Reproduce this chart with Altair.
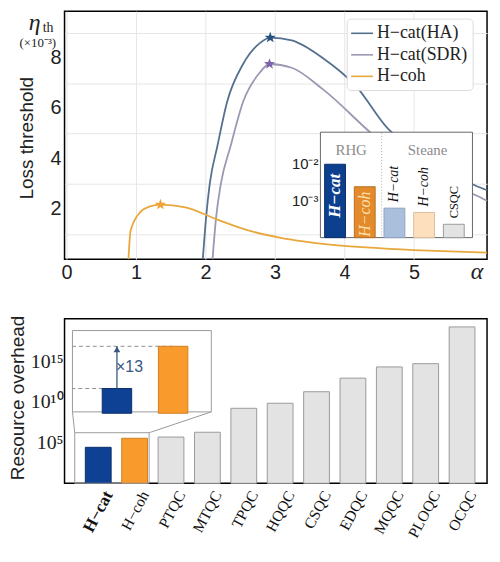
import altair as alt
import pandas as pd

# ---------------- Top panel: loss threshold (x1e-3) vs alpha ----------------
series_names = ["H−cat(HA)", "H−cat(SDR)", "H−coh"]
line_colors = ["#55708f", "#9a98b3", "#e8a83c"]

ha_alpha = [1.96, 2.01, 2.06, 2.17, 2.31, 2.54, 2.78, 2.93, 3.24, 3.69, 4.17, 4.63, 5.0, 5.5, 5.88, 6.05]
ha_eta = [0.0, 1.75, 3.0, 4.5, 6.26, 7.76, 8.59, 8.81, 8.7, 7.99, 6.86, 5.17, 4.4, 3.5, 2.93, 2.74]

sdr_alpha = [2.10, 2.15, 2.22, 2.36, 2.54, 2.78, 2.92, 3.24, 3.69, 4.39, 4.8, 5.3, 5.88, 6.05]
sdr_eta = [0.0, 1.63, 3.0, 4.5, 6.26, 7.42, 7.76, 7.61, 6.75, 4.99, 4.05, 3.2, 2.55, 2.32]

coh_alpha = [0.89, 0.92, 1.06, 1.2, 1.35, 1.71, 2.17, 2.64, 3.1, 3.38, 3.79, 4.49, 5.2, 6.05]
coh_eta = [0.0, 1.12, 1.87, 2.1, 2.17, 2.06, 1.57, 1.12, 0.84, 0.72, 0.58, 0.44, 0.34, 0.26]

peak_alpha = [2.93, 2.92, 1.35]
peak_eta = [8.81, 7.76, 2.17]
star_colors = ["#27507f", "#7a63a9", "#f2a235"]
STAR = ("M0,-1L0.235,-0.324L0.951,-0.309L0.38,0.124L0.588,0.809L0,0.4L-0.588,0.809"
        "L-0.38,0.124L-0.951,-0.309L-0.235,-0.324Z")

x_ticks = [0, 1, 2, 3, 4, 5]
y_grid = [1, 2, 3, 4, 5, 6, 7, 8, 9]
y_label_vals = [2, 4, 6, 8]
y_label_txt = ["2", "4", "6", "8"]

# inset of top panel
inset_groups = ["RHG", "Steane"]
inset_names = ["H−cat", "H−coh", "H−cat", "H−coh", "CSQC"]
inset_values = [9.8e-3, 2.4e-3, 6.3e-4, 4.8e-4, 2.3e-4]
inset_fill = ["#0d3f8f", "#e38a2b", "#aabfdc", "#fddfbe", "#e3e3e3"]
inset_stroke = ["#0a2f6b", "#b86e22", "#8fa3c0", "#d9bf9f", "#9a9a9a"]
inset_floor = 1e-4
inset_ticks = [1e-2, 1e-3]
inset_tick_labels = ["10⁻²", "10⁻³"]

# ---------------- Bottom panel: resource overhead ----------------
methods = ["H−cat", "H−coh", "PTQC", "MTQC", "TPQC", "HQQC", "CSQC", "EDQC", "MQQC", "PLOQC", "OCQC"]
overhead = [2.75e4, 3.6e5, 5.1e5, 2.0e6, 1.8e9, 7.6e9, 2.0e11, 9.5e12, 2.3e14, 5.8e14, 2.0e19]
method_fill = ["#0e4194", "#f89b2c", "#e3e3e3", "#e3e3e3", "#e3e3e3", "#e3e3e3",
               "#e3e3e3", "#e3e3e3", "#e3e3e3", "#e3e3e3", "#e3e3e3"]
method_stroke = ["#0a2f6b", "#d07f20", "#9a9a9a", "#9a9a9a", "#9a9a9a", "#9a9a9a",
                 "#9a9a9a", "#9a9a9a", "#9a9a9a", "#9a9a9a", "#9a9a9a"]
bottom_floor = 1
zoom_floor = 6.1e3
y_ticks_bottom = [1e5, 1e10, 1e15]
y_ticks_bottom_txt = ["10⁵", "10¹⁰", "10¹⁵"]
ratio_label = "×13"

SERIF = "Liberation Serif"
SANS = "Liberation Sans"

# ---------------- data frames ----------------
rows = []
for name, xa, ya in zip(series_names, [ha_alpha, sdr_alpha, coh_alpha], [ha_eta, sdr_eta, coh_eta]):
    for a, e in zip(xa, ya):
        rows.append({"series": name, "alpha": a, "eta": e})
df_lines = pd.DataFrame(rows)
df_stars = pd.DataFrame({"series": series_names, "alpha": peak_alpha, "eta": peak_eta, "fill": star_colors})
df_ylab = pd.DataFrame({"eta": y_label_vals, "t": y_label_txt})
df_inset = pd.DataFrame({"i": list(range(len(inset_names))), "name": inset_names, "v": inset_values,
                         "base": [inset_floor] * len(inset_names),
                         "fill": inset_fill, "stroke": inset_stroke})
df_itick = pd.DataFrame({"v": inset_ticks, "t": inset_tick_labels})
df_b = pd.DataFrame({"i": list(range(len(methods))), "name": methods, "v": overhead,
                     "base": [bottom_floor] * len(methods),
                     "fill": method_fill, "stroke": method_stroke})
df_bylab = pd.DataFrame({"v": y_ticks_bottom, "t": y_ticks_bottom_txt})
df_bi = pd.DataFrame({"i": [0, 1], "v": overhead[:2], "base": [zoom_floor, zoom_floor],
                      "fill": method_fill[:2], "stroke": method_stroke[:2]})
df_arrow = pd.DataFrame({"i": [0], "v0": [overhead[0]], "v1": [overhead[1]]})
one = pd.DataFrame({"a": [0]})


def txt(text, x, y, **kw):
    return alt.Chart(one).mark_text(text=text, **kw).encode(x=alt.value(x), y=alt.value(y))


# ---------------- top panel ----------------
W1, H1 = 426, 250
xs = alt.Scale(domain=[-0.03, 6.05], nice=False, zero=False)
ys = alt.Scale(domain=[0, 9.86], nice=False, zero=False)

x_enc = alt.X("alpha:Q", scale=xs, axis=alt.Axis(
    values=x_ticks, grid=True, gridColor="#e6e6e6", domain=False, ticks=False,
    labelFont=SANS, labelFontSize=20, labelColor="#222", labelPadding=4, title=None))
y_enc = alt.Y("eta:Q", scale=ys, axis=alt.Axis(
    values=y_grid, grid=True, gridColor="#e6e6e6", domain=False, ticks=False, labels=False,
    title=None))

lines = alt.Chart(df_lines).mark_line(strokeWidth=1.8, interpolate="monotone").encode(
    x=x_enc, y=y_enc,
    color=alt.Color("series:N", scale=alt.Scale(domain=series_names, range=line_colors), legend=None))

stars = alt.Chart(df_stars).mark_point(shape=STAR, filled=True, size=140, opacity=1).encode(
    x=x_enc, y=y_enc, fill=alt.Fill("fill:N", scale=None))

ylab = alt.Chart(df_ylab).mark_text(font=SANS, fontSize=20, color="#222", align="right",
                                    baseline="middle").encode(
    x=alt.value(-3), y=alt.Y("eta:Q", scale=ys), text="t:N")

# legend box drawn by hand
leg_box = alt.Chart(one).mark_rect(fill="white", stroke="#dcdcdc", strokeWidth=1, cornerRadius=4).encode(
    x=alt.value(285), x2=alt.value(412), y=alt.value(8), y2=alt.value(80))
leg_items = []
for k, (nm, colr) in enumerate(zip(series_names, line_colors)):
    yy = 22.3 + 21.7 * k
    leg_items.append(alt.Chart(one).mark_rule(color=colr, strokeWidth=1.6).encode(
        x=alt.value(289), x2=alt.value(311), y=alt.value(yy)))
    leg_items.append(txt(nm, 315, yy, font=SERIF, fontSize=18, color="#222", align="left",
                         baseline="middle"))

ytitle = txt("Loss threshold", -38, 128, font=SANS, fontSize=19, color="#222", angle=270,
             align="center", baseline="middle")
eta_sym = txt("η", -30, 19, font=SERIF, fontStyle="italic", fontSize=24, align="center",
              baseline="alphabetic", color="#222")
eta_sub = txt("th", -22, 21, font=SERIF, fontSize=14, align="left", baseline="alphabetic", color="#222")
eta_unit = txt("(×10⁻³)", -27, 36, font=SERIF, fontSize=13, align="center", baseline="alphabetic",
               color="#222")
alpha_lbl = txt("α", 416, 263, font=SERIF, fontStyle="italic", fontSize=24, align="center",
                baseline="middle", color="#222")

main_top = alt.layer(lines, stars, ylab, leg_box, *leg_items, ytitle, eta_sym, eta_sub, eta_unit,
                     alpha_lbl)

# inset (own scales; domains chosen so the inset sits in the lower right of the panel)
ix = alt.Scale(domain=[-8.946, 4.953], nice=False, zero=False)
iy = alt.Scale(type="log", domain=[2.606e-5, 139.6], nice=False)

inset_bg = alt.Chart(one).mark_rect(fill="white", stroke="#666666", strokeWidth=1).encode(
    x=alt.value(258), x2=alt.value(411.3), y=alt.value(122), y2=alt.value(228.3))
inset_div = alt.Chart(one).mark_rule(color="#b0b0b0", strokeDash=[1, 2], strokeWidth=1).encode(
    x=alt.value(319.7), y=alt.value(123), y2=alt.value(228))
grp_rhg = txt(inset_groups[0], 289, 140, font=SERIF, fontSize=15, color="#8c8c8c", align="center",
              baseline="middle")
grp_ste = txt(inset_groups[1], 366, 140, font=SERIF, fontSize=15, color="#8c8c8c", align="center",
              baseline="middle")
inset_bars = alt.Chart(df_inset).mark_bar(size=21, strokeWidth=1).encode(
    x=alt.X("i:Q", scale=ix, axis=None),
    y=alt.Y("v:Q", scale=iy, axis=None),
    y2="base:Q",
    fill=alt.Fill("fill:N", scale=None),
    stroke=alt.Stroke("stroke:N", scale=None))
inset_tick_txt = alt.Chart(df_itick).mark_text(font=SANS, fontSize=15, color="#222", align="right",
                                               baseline="middle").encode(
    x=alt.value(256), y=alt.Y("v:Q", scale=iy, axis=None), text="t:N")
lbl_in0 = alt.Chart(df_inset.iloc[[0]]).mark_text(font=SERIF, fontSize=17, fontWeight="bold",
                                                  fontStyle="italic", color="white", angle=270,
                                                  align="left", baseline="middle", dx=20).encode(
    x=alt.X("i:Q", scale=ix, axis=None), y=alt.Y("base:Q", scale=iy, axis=None), text="name:N")
lbl_in1 = alt.Chart(df_inset.iloc[[1]]).mark_text(font=SERIF, fontSize=16, fontStyle="italic",
                                                  color="#fbe1b0", angle=270, align="left",
                                                  baseline="middle", dx=1).encode(
    x=alt.X("i:Q", scale=ix, axis=None), y=alt.Y("base:Q", scale=iy, axis=None), text="name:N")
lbl_ste = alt.Chart(df_inset.iloc[[2, 3]]).mark_text(font=SERIF, fontSize=14, fontStyle="italic",
                                                     color="#111", angle=270, align="left",
                                                     baseline="middle", dx=6).encode(
    x=alt.X("i:Q", scale=ix, axis=None), y=alt.Y("v:Q", scale=iy, axis=None), text="name:N")
lbl_csqc = alt.Chart(df_inset.iloc[[4]]).mark_text(font=SERIF, fontSize=12.5, color="#111", angle=270,
                                                   align="left", baseline="middle", dx=6).encode(
    x=alt.X("i:Q", scale=ix, axis=None), y=alt.Y("v:Q", scale=iy, axis=None), text="name:N")

inset_top = alt.layer(inset_bg, inset_div, grp_rhg, grp_ste, inset_bars, inset_tick_txt,
                      lbl_in0, lbl_in1, lbl_ste, lbl_csqc)

top = alt.layer(main_top, inset_top).resolve_scale(x="independent", y="independent").properties(
    width=W1, height=H1)

# ---------------- bottom panel ----------------
W2, H2 = 426, 166
bx = alt.Scale(domain=[-0.79, 10.55], nice=False, zero=False)
by = alt.Scale(type="log", domain=[1, 2.1e20], nice=False)

bars = alt.Chart(df_b).mark_bar(size=26, strokeWidth=1).encode(
    x=alt.X("i:Q", scale=bx, axis=None),
    y=alt.Y("v:Q", scale=by, axis=None),
    y2="base:Q",
    fill=alt.Fill("fill:N", scale=None),
    stroke=alt.Stroke("stroke:N", scale=None))
xlab0 = alt.Chart(df_b.iloc[[0]]).mark_text(font=SERIF, fontSize=17, fontWeight="bold", color="#111",
                                            angle=298, align="right", baseline="middle",
                                            dx=-3, dy=13.5).encode(
    x=alt.X("i:Q", scale=bx, axis=None), y=alt.value(H2), text="name:N")
xlab = alt.Chart(df_b.iloc[1:]).mark_text(font=SERIF, fontSize=15.5, color="#111", angle=298,
                                          align="right", baseline="middle", dx=-3, dy=13.5).encode(
    x=alt.X("i:Q", scale=bx, axis=None), y=alt.value(H2), text="name:N")
bylab = alt.Chart(df_bylab).mark_text(font=SERIF, fontSize=20, color="#222", align="right",
                                      baseline="middle").encode(
    x=alt.value(-1), y=alt.Y("v:Q", scale=by, axis=None), text="t:N")
btitle = txt("Resource overhead", -47, 80, font=SANS, fontSize=19, color="#222", angle=270,
             align="center", baseline="middle")

low_box = alt.Chart(one).mark_rect(fillOpacity=0, stroke="#9a9a9a", strokeWidth=1).encode(
    x=alt.value(10.3), x2=alt.value(85.3), y=alt.value(115), y2=alt.value(H2))
conn_l = alt.Chart(one).mark_rule(color="#9a9a9a", strokeWidth=1).encode(
    x=alt.value(8), y=alt.value(94), x2=alt.value(10.3), y2=alt.value(115))
conn_r = alt.Chart(one).mark_rule(color="#9a9a9a", strokeWidth=1).encode(
    x=alt.value(148), y=alt.value(94), x2=alt.value(85.3), y2=alt.value(115))
big_box = alt.Chart(one).mark_rect(fill="white", stroke="#9a9a9a", strokeWidth=1).encode(
    x=alt.value(8), x2=alt.value(148), y=alt.value(12), y2=alt.value(94))

main_bottom = alt.layer(bars, xlab0, xlab, bylab, btitle, low_box, conn_l, conn_r, big_box)

# zoomed inset: 6.1e3 at y=94 and 3.6e5 at y=28 (38.2 px per decade)
ix2 = alt.Scale(domain=[-0.8448, 6.5], nice=False, zero=False)
iy2 = alt.Scale(type="log", domain=[85.6, 1.94e6], nice=False)

dashes = alt.Chart(df_bi).mark_rule(color="#8f8f8f", strokeDash=[4, 3], strokeWidth=1).encode(
    x=alt.X("i:Q", scale=ix2, axis=None), x2=alt.value(8), y=alt.Y("v:Q", scale=iy2, axis=None))
ibars = alt.Chart(df_bi).mark_bar(size=29.7, strokeWidth=1).encode(
    x=alt.X("i:Q", scale=ix2, axis=None),
    y=alt.Y("v:Q", scale=iy2, axis=None),
    y2="base:Q",
    fill=alt.Fill("fill:N", scale=None),
    stroke=alt.Stroke("stroke:N", scale=None))
arrow = alt.Chart(df_arrow).mark_rule(color="#3a5784", strokeWidth=1.3).encode(
    x=alt.X("i:Q", scale=ix2, axis=None), y=alt.Y("v0:Q", scale=iy2, axis=None), y2="v1:Q")
arrow_head = alt.Chart(df_arrow).mark_point(shape="triangle-up", size=45, filled=True,
                                            color="#3a5784", opacity=1, yOffset=3).encode(
    x=alt.X("i:Q", scale=ix2, axis=None), y=alt.Y("v1:Q", scale=iy2, axis=None))
ratio_txt = txt(ratio_label, 52, 49, font=SANS, fontSize=16, color="#3a5784", align="left",
                baseline="middle")

inset_bottom = alt.layer(dashes, ibars, arrow, arrow_head, ratio_txt)

bottom = alt.layer(main_bottom, inset_bottom).resolve_scale(x="independent", y="independent").properties(
    width=W2, height=H2)

chart = alt.vconcat(top, bottom, spacing=30).properties(padding=0).configure_view(
    stroke="black", strokeWidth=1.5)

chart.save("out.html", embed_options={"renderer": "svg", "actions": False})
